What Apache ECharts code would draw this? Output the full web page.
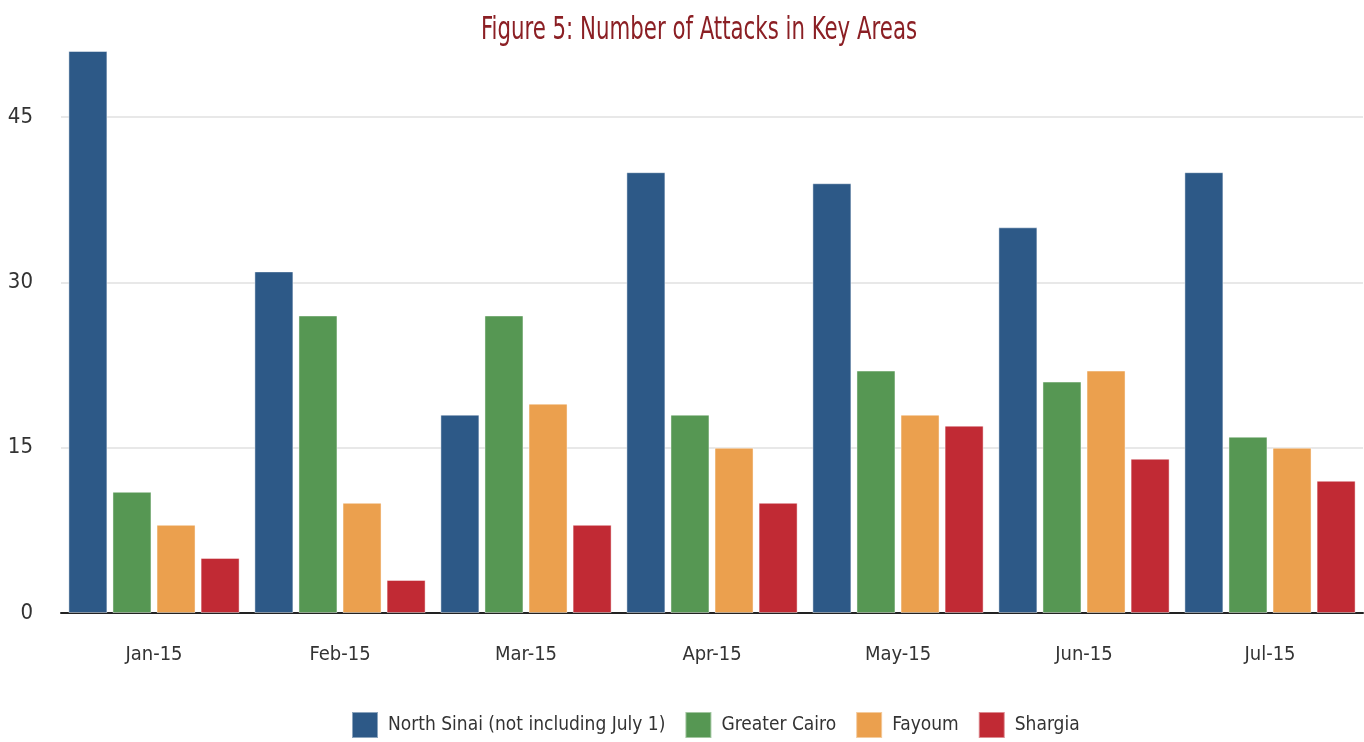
<!DOCTYPE html>
<html>
<head>
<meta charset="utf-8">
<script src="https://cdn.jsdelivr.net/npm/echarts@6/dist/echarts.min.js"></script>
<style>
html,body{margin:0;padding:0;background:#fff;}
#c{width:1364px;height:742px;}
</style>
</head>
<body>
<div id="c"></div>
<script>
const categories = ['Jan-15','Feb-15','Mar-15','Apr-15','May-15','Jun-15','Jul-15'];
const northSinai = [51, 31, 18, 40, 39, 35, 40];
const greaterCairo = [11, 27, 27, 18, 22, 21, 16];
const fayoum = [8, 10, 19, 15, 18, 22, 15];
const shargia = [5, 3, 8, 10, 17, 14, 12];
const seriesNames = ['North Sinai (not including July 1)', 'Greater Cairo', 'Fayoum', 'Shargia'];
const gridTicks = [15, 30, 45];
const titleText = 'Figure 5: Number of Attacks in Key Areas';

const FONT = '"Liberation Sans Narrow", "DejaVu Sans Condensed", "Roboto", sans-serif';
const colors = ['#2d5987', '#569753', '#eba04e', '#c12a34'];

const chart = echarts.init(document.getElementById('c'));
function barSeries(name, data, i) {
  return {
    name: name, type: 'bar', data: data, z: 2,
    barWidth: 39, barGap: '13%',
    itemStyle: { color: colors[i], borderColor: 'rgba(255,255,255,0.45)', borderWidth: 1 }
  };
}
chart.setOption({
  animation: false,
  color: colors,
  graphic: [{
    type: 'text', x: 699, y: 15, scaleX: 0.74, originX: 0, originY: 0,
    style: {
      text: titleText, fill: '#8b1f24', align: 'center', verticalAlign: 'top',
      font: 'normal 32px ' + FONT
    }
  }],
  legend: {
    top: 706, left: 346,
    itemWidth: 26, itemHeight: 26, itemGap: 19,
    icon: 'rect',
    data: seriesNames,
    textStyle: { fontFamily: FONT, fontSize: 19, color: '#333', padding: [0, 0, 0, 5] }
  },
  grid: { left: 61, right: 1, top: 51, bottom: 129, containLabel: false },
  xAxis: {
    type: 'category', data: categories,
    axisLine: { lineStyle: { color: '#222', width: 2 } },
    axisTick: { show: false },
    axisLabel: { margin: 32, fontFamily: FONT, fontSize: 20, color: '#333' }
  },
  yAxis: {
    type: 'value', min: 0, max: 51, interval: 15,
    axisLine: { show: false }, axisTick: { show: false },
    splitLine: { show: false },
    axisLabel: {
      margin: 28, fontFamily: FONT, fontSize: 22, color: '#333',
      showMaxLabel: false,
      formatter: function (v) { return v % 15 === 0 ? String(v) : ''; }
    }
  },
  series: [
    {
      type: 'line', data: [], z: 1, silent: true,
      markLine: {
        silent: true, symbol: 'none', label: { show: false }, z: 1,
        lineStyle: { color: '#e8e8e8', width: 2, type: 'solid' },
        data: gridTicks.map(v => ({ yAxis: v }))
      }
    },
    barSeries(seriesNames[0], northSinai, 0),
    barSeries(seriesNames[1], greaterCairo, 1),
    barSeries(seriesNames[2], fayoum, 2),
    barSeries(seriesNames[3], shargia, 3)
  ]
});
</script>
</body>
</html>
